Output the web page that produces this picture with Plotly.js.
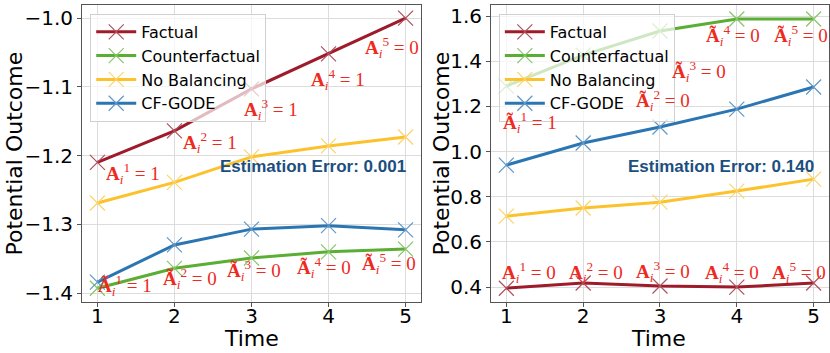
<!DOCTYPE html>
<html>
<head>
<meta charset="utf-8">
<script src="https://cdn.plot.ly/plotly-3.0.1.min.js"></script>
<style>
  body { margin: 0; background: #fff; }
  #chart { width: 830px; height: 353px; }
</style>
</head>
<body>
<div id="chart"></div>
<script>
var time = [1, 2, 3, 4, 5];

// left panel
var factualL = [-1.210, -1.164, -1.103, -1.052, -1.000];
var counterL = [-1.393, -1.364, -1.349, -1.340, -1.336];
var noBalL = [-1.269, -1.239, -1.202, -1.186, -1.173];
var godeL = [-1.384, -1.330, -1.307, -1.302, -1.308];
var factTreatL = [1, 1, 1, 1, 0];
var cfTreatL = [1, 0, 0, 0, 0];
var errorL = '0.001';

// right panel
var factualR = [0.395, 0.418, 0.405, 0.400, 0.418];
var counterR = [1.290, 1.427, 1.534, 1.587, 1.587];
var noBalR = [0.714, 0.750, 0.776, 0.825, 0.878];
var godeR = [0.940, 1.038, 1.109, 1.188, 1.286];
var factTreatR = [0, 0, 0, 0, 0];
var cfTreatR = [1, 0, 0, 0, 0];
var errorR = '0.140';

var names = ['Factual', 'Counterfactual', 'No Balancing', 'CF-GODE'];
var colors = ['#9e1b2b', '#5aae33', '#fcc22c', '#2b76b2'];
var markerColors = ['#b0505c', '#86c66a', '#fdd468', '#5f97c8'];

var makeTrace = function (i, y, ax) {
    return {
        name: names[i],
        type: 'scatter',
        mode: 'lines+markers',
        x: time,
        y: y,
        xaxis: 'x' + ax,
        yaxis: 'y' + ax,
        legend: ax === '' ? 'legend' : 'legend2',
        line: { color: colors[i], width: 3 },
        marker: {
            symbol: 'x-thin',
            size: 15,
            line: { color: markerColors[i], width: 1.2 }
        }
    };
};

var data = [
    makeTrace(0, factualL, ''),
    makeTrace(1, counterL, ''),
    makeTrace(2, noBalL, ''),
    makeTrace(3, godeL, ''),
    makeTrace(0, factualR, '2'),
    makeTrace(1, counterR, '2'),
    makeTrace(2, noBalR, '2'),
    makeTrace(3, godeR, '2')
];

var label = function (tilde, t, v) {
    return '<b>' + (tilde ? '\u00c3' : 'A') + '</b><sub><i>i</i></sub><sup>' + t + '</sup> = ' + v;
};

var annFont = { family: 'Liberation Serif, serif', size: 19, color: '#ee2a1e' };
var annotations = [];

var addLabels = function (ys, treat, tilde, ax, shifts) {
    for (var k = 0; k < time.length; k++) {
        annotations.push({
            xref: 'x' + ax, yref: 'y' + ax,
            x: time[k], y: ys[k],
            text: label(tilde, time[k], treat[k]),
            showarrow: false,
            font: annFont,
            xanchor: 'center', yanchor: 'middle',
            xshift: shifts[k][0], yshift: -shifts[k][1]
        });
    }
};

addLabels(factualL, factTreatL, false, '', [[36, 11], [36, 12], [20, 21], [9, 26], [-14, 29]]);
addLabels(counterL, cfTreatL, true, '', [[28, -3], [16, 10], [3, 12], [-5, 16], [-17, 14]]);
addLabels(factualR, factTreatR, false, '2', [[23, -16], [13, -11], [3, -14], [-5, -15], [-15, -11]]);
addLabels(counterR, cfTreatR, true, '2', [[24, 36], [80, 45], [39, 41], [-4, 16], [-13, 16]]);

var errFont = { family: 'Liberation Sans, Arial, sans-serif', size: 17, color: '#1b4f80' };
annotations.push({
    xref: 'x domain', yref: 'y domain', x: 0.962, y: 0.455,
    text: '<b>Estimation Error: ' + errorL + '</b>', showarrow: false,
    xanchor: 'right', yanchor: 'middle', font: errFont
});
annotations.push({
    xref: 'x2 domain', yref: 'y2 domain', x: 0.962, y: 0.455,
    text: '<b>Estimation Error: ' + errorR + '</b>', showarrow: false,
    xanchor: 'right', yanchor: 'middle', font: errFont
});

var titleFont = { family: 'DejaVu Sans, sans-serif', size: 22, color: '#000' };
// axis titles as paper-positioned text
[[-0.0897, 'Potential Outcome', -90, 0.5, 'middle'], [0.4819, 'Potential Outcome', -90, 0.5, 'middle'],
 [0.2275, 'Time', 0, -0.1695, 'bottom'], [0.7724, 'Time', 0, -0.1695, 'bottom']].forEach(function (t) {
    annotations.push({
        xref: 'paper', yref: 'paper', x: t[0], y: t[3],
        text: t[1], textangle: t[2], showarrow: false,
        xanchor: 'center', yanchor: t[4], font: titleFont, borderpad: 0
    });
});

var tickFont = { family: 'DejaVu Sans, sans-serif', size: 20, color: '#000' };

var xAxis = function (dom, anchor) {
    return {
        domain: dom, anchor: anchor,
        range: [0.8, 5.2],
        tickvals: time,
        tickfont: tickFont,
        ticklabelstandoff: -8,
        showgrid: true, gridcolor: '#dcdcdc', gridwidth: 1,
        zeroline: false,
        showline: true, linecolor: '#555', linewidth: 1, mirror: true,
        ticks: 'outside', ticklen: 4, tickcolor: '#555'
    };
};

var yAxis = function (range, dtick, anchor) {
    return {
        anchor: anchor,
        range: range,
        dtick: dtick,
        tickformat: '.1f',
        tickfont: tickFont,
        showgrid: true, gridcolor: '#dcdcdc', gridwidth: 1,
        zeroline: false,
        showline: true, linecolor: '#555', linewidth: 1, mirror: true,
        ticks: 'outside', ticklen: 4, tickcolor: '#555'
    };
};

var legendBase = function (x) {
    return {
        x: x, y: 0.97, xanchor: 'left', yanchor: 'top',
        xref: 'paper', yref: 'paper',
        bgcolor: 'rgba(255,255,255,0.7)',
        bordercolor: '#d0d0d0', borderwidth: 1,
        font: { family: 'DejaVu Sans, sans-serif', size: 16, color: '#000' },
        tracegroupgap: 0,
        itemwidth: 40
    };
};

var layout = {
    width: 830,
    height: 353,
    margin: { l: 82, r: 1, t: 5, b: 51 },
    paper_bgcolor: '#fff',
    plot_bgcolor: '#fff',
    showlegend: true,
    xaxis: xAxis([0, 0.4538], 'y'),
    yaxis: yAxis([-1.413, -0.981], 0.1, 'x'),
    xaxis2: xAxis([0.5475, 1], 'y2'),
    yaxis2: yAxis([0.334, 1.649], 0.2, 'x2'),
    legend: legendBase(0.011),
    legend2: legendBase(0.558),
    annotations: annotations
};

Plotly.newPlot('chart', data, layout, { displayModeBar: false, staticPlot: true });
</script>
</body>
</html>
